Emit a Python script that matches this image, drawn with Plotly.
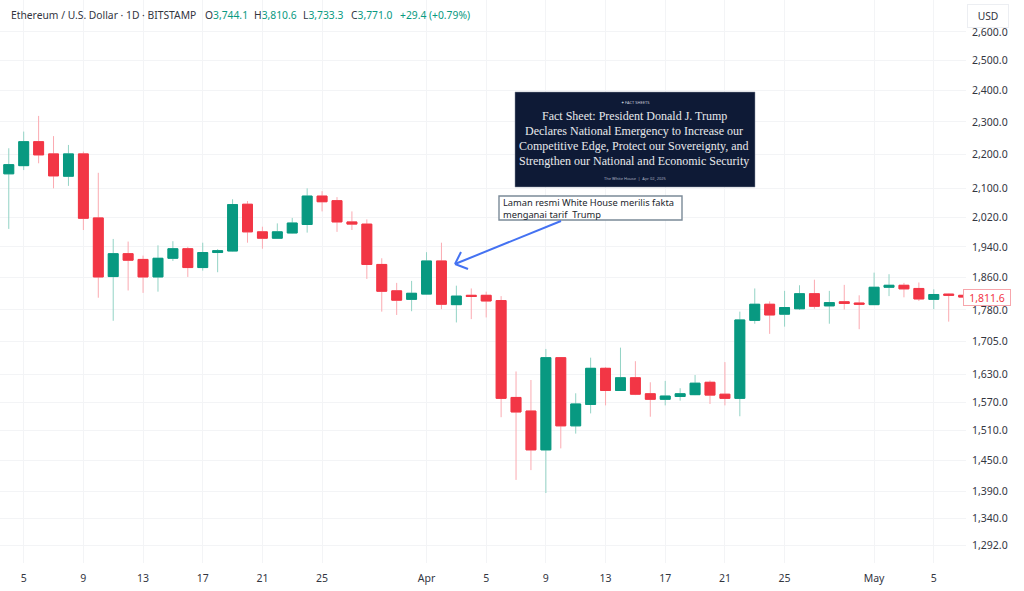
import math
import pandas as pd
import plotly.graph_objects as go

W, H = 1024, 591
PLOT_R = 966   # right edge of candle pane, px
PLOT_B = 563   # bottom edge of candle pane, px

dates = pd.date_range("2025-03-04", "2025-05-07", freq="D")

opens = [2143, 2167, 2239, 2202, 2136, 2202, 2018, 1863, 1922, 1907, 1862, 1910, 1935, 1886, 1925, 1929,
         2056, 1980, 1963, 1977, 2000, 2079, 2066, 2007, 2001, 1894, 1827, 1806,
         1819, 1903, 1793, 1816, 1816, 1803, 1580, 1551, 1471, 1668, 1520, 1565, 1644, 1595, 1623, 1588,
         1576, 1582, 1586, 1613, 1587, 1578, 1755, 1794, 1770, 1783, 1820, 1790, 1800, 1797,
         1793, 1836, 1841, 1833, 1806, 1819, 1816]
highs = [2219, 2270, 2319, 2256, 2229, 2209, 2146, 1961, 1954, 1917, 1944, 1955, 1940, 1951, 1934, 2070,
         2065, 1994, 2003, 2018, 2101, 2093, 2076, 2036, 2014, 1910, 1847, 1852,
         1926, 1951, 1840, 1833, 1825, 1814, 1637, 1618, 1688, 1669, 1589, 1668, 1647, 1691, 1660, 1613,
         1616, 1600, 1629, 1617, 1658, 1776, 1833, 1801, 1827, 1841, 1855, 1827, 1842, 1816,
         1873, 1869, 1847, 1848, 1831, 1820, 1817]
lows = [1988, 2154, 2174, 2101, 2108, 1985, 1810, 1754, 1828, 1822, 1825, 1903, 1862, 1878, 1874, 1928,
        1951, 1935, 1962, 1976, 1978, 2036, 1980, 1985, 1857, 1776, 1768, 1777,
        1818, 1782, 1750, 1758, 1762, 1538, 1412, 1431, 1387, 1474, 1504, 1546, 1563, 1594, 1585, 1539,
        1563, 1573, 1585, 1566, 1563, 1540, 1747, 1723, 1740, 1780, 1783, 1747, 1781, 1734,
        1792, 1814, 1811, 1802, 1782, 1752, 1810]
closes = [2170, 2239, 2199, 2137, 2202, 2017, 1862, 1922, 1905, 1862, 1910, 1935, 1886, 1925, 1930, 2055,
          1980, 1963, 1980, 2004, 2079, 2063, 2007, 2001, 1894, 1826, 1804, 1821,
          1903, 1794, 1814, 1813, 1802, 1578, 1549, 1471, 1668, 1520, 1566, 1644, 1595, 1623, 1587, 1576,
          1583, 1588, 1611, 1585, 1578, 1756, 1794, 1768, 1786, 1820, 1789, 1798, 1796, 1794,
          1836, 1841, 1832, 1807, 1818, 1816, 1811.6]

price_ticks = [2600, 2500, 2400, 2300, 2200, 2100, 2020, 1940, 1860, 1780, 1705, 1630, 1570, 1510, 1450, 1390, 1340, 1292]
date_ticks = ["2025-03-05", "2025-03-09", "2025-03-13", "2025-03-17", "2025-03-21", "2025-03-25", "2025-04-01",
              "2025-04-05", "2025-04-09", "2025-04-13", "2025-04-17", "2025-04-21", "2025-04-25", "2025-05-01", "2025-05-05"]
date_labels = ["5", "9", "13", "17", "21", "25", "Apr", "5", "9", "13", "17", "21", "25", "May", "5"]

fact_lines = ["Fact Sheet: President Donald J. Trump",
              "Declares National Emergency to Increase our",
              "Competitive Edge, Protect our Sovereignty, and",
              "Strengthen our National and Economic Security"]

GREEN = "#089981"
RED = "#f23645"
TEXT = "#33363f"
FONT = "Noto Sans"


def px(x):
    return x / PLOT_R


def py(y):
    return (PLOT_B - y) / PLOT_B


def label(x, y, text, size=10.3, color=TEXT, anchor="left", family=FONT, **kw):
    return dict(xref="paper", yref="paper", x=px(x), y=py(y), text=text, showarrow=False,
                xanchor=anchor, yanchor="middle", font=dict(size=size, color=color, family=family), **kw)


# pale wicks first, then the bodies on top in the solid colours
fig = go.Figure()
fig.add_trace(go.Candlestick(
    x=dates, open=opens, high=highs, low=lows, close=closes,
    increasing=dict(fillcolor=GREEN, line=dict(color="#93d3c5", width=1)),
    decreasing=dict(fillcolor=RED, line=dict(color="#fbaab1", width=1)),
    whiskerwidth=0, showlegend=False,
))
fig.add_trace(go.Candlestick(
    x=dates, open=opens, close=closes,
    high=[max(o, c) for o, c in zip(opens, closes)],
    low=[min(o, c) for o, c in zip(opens, closes)],
    increasing=dict(fillcolor=GREEN, line=dict(color=GREEN, width=1)),
    decreasing=dict(fillcolor=RED, line=dict(color=RED, width=1)),
    whiskerwidth=0, showlegend=False,
))

annotations = [
    label(9, 15, "Ethereum / U.S. Dollar · 1D · BITSTAMP"),
    label(203, 15, f"O<span style='color:{GREEN}'>3,744.1</span>"),
    label(252, 15, f"H<span style='color:{GREEN}'>3,810.6</span>"),
    label(301, 15, f"L<span style='color:{GREEN}'>3,733.3</span>"),
    label(349, 15, f"C<span style='color:{GREEN}'>3,771.0</span>"),
    label(398, 15, "+29.4 (+0.79%)", color=GREEN),
    label(988, 16, "USD", anchor="center", bgcolor="white", bordercolor="#eceef2", borderwidth=1,
          width=38, height=20, align="center"),
    dict(xref="paper", yref="y", x=px(986.5), y=math.log10(1811.6), text="1,811.6",
         showarrow=False, xanchor="center", yanchor="middle", font=dict(size=10.5, color=RED, family=FONT),
         bgcolor="white", bordercolor="#f7a6ac", borderwidth=1, width=44, height=13),
    label(635, 102, "✦ FACT SHEETS", size=4, color="#c8ccd6", anchor="center"),
    label(635, 179, "The White House  |  Apr 02, 2025", size=4, color="#aab0c0", anchor="center"),
    label(501, 208, "Laman resmi White House merilis fakta<br>menganai tarif  Trump", size=9.3,
          color="#22252c", align="left"),
]
for i, line in enumerate(fact_lines):
    annotations.append(label(634, 116 + i * 15, line, size=12, color="#e8e9ec", anchor="center",
                             family="Liberation Serif"))


def box(x0, y0, x1, y1, fill, line_color, width):
    return dict(type="rect", xref="paper", yref="paper", x0=px(x0), x1=px(x1), y0=py(y0), y1=py(y1),
                fillcolor=fill, line=dict(color=line_color, width=width), layer="above")


def seg(x0, y0, x1, y1):
    return dict(type="line", xref="paper", yref="paper", x0=px(x0), x1=px(x1), y0=py(y0), y1=py(y1),
                line=dict(color="#4472f2", width=2), layer="above")


shapes = [
    box(515, 92, 755, 187, "#0e1a36", "#8a90a0", 0.5),
    box(499, 196, 682, 220, "white", "#7b8a98", 1.4),
    seg(561, 221, 455, 264),
    seg(455, 264, 461, 252),
    seg(455, 264, 468, 269),
]

fig.update_layout(
    width=W, height=H,
    margin=dict(l=0, r=W - PLOT_R, t=0, b=H - PLOT_B),
    paper_bgcolor="white", plot_bgcolor="white",
    font=dict(family=FONT, size=10.5, color=TEXT),
    annotations=annotations, shapes=shapes,
    hovermode=False, boxgap=0.05, boxmode="overlay",
)
fig.update_xaxes(
    type="date", rangeslider_visible=False,
    range=["2025-03-03 09:53", "2025-05-07 03:50"],
    tickmode="array", tickvals=date_ticks, ticktext=date_labels,
    showgrid=True, gridcolor="#f3f4f6", gridwidth=1, zeroline=False, showline=False,
    ticks="", ticklabelstandoff=7,
)
fig.update_yaxes(
    type="log", side="right", range=[3.10066, 3.43391],
    tickmode="array", tickvals=price_ticks, ticktext=[f"{p:,.1f}" for p in price_ticks],
    showgrid=True, gridcolor="#f3f4f6", gridwidth=1, zeroline=False, showline=False,
    ticks="", ticklabelstandoff=5,
)

fig.write_html("out.html", config=dict(displayModeBar=False),
               post_script="document.body.style.margin='0';")
